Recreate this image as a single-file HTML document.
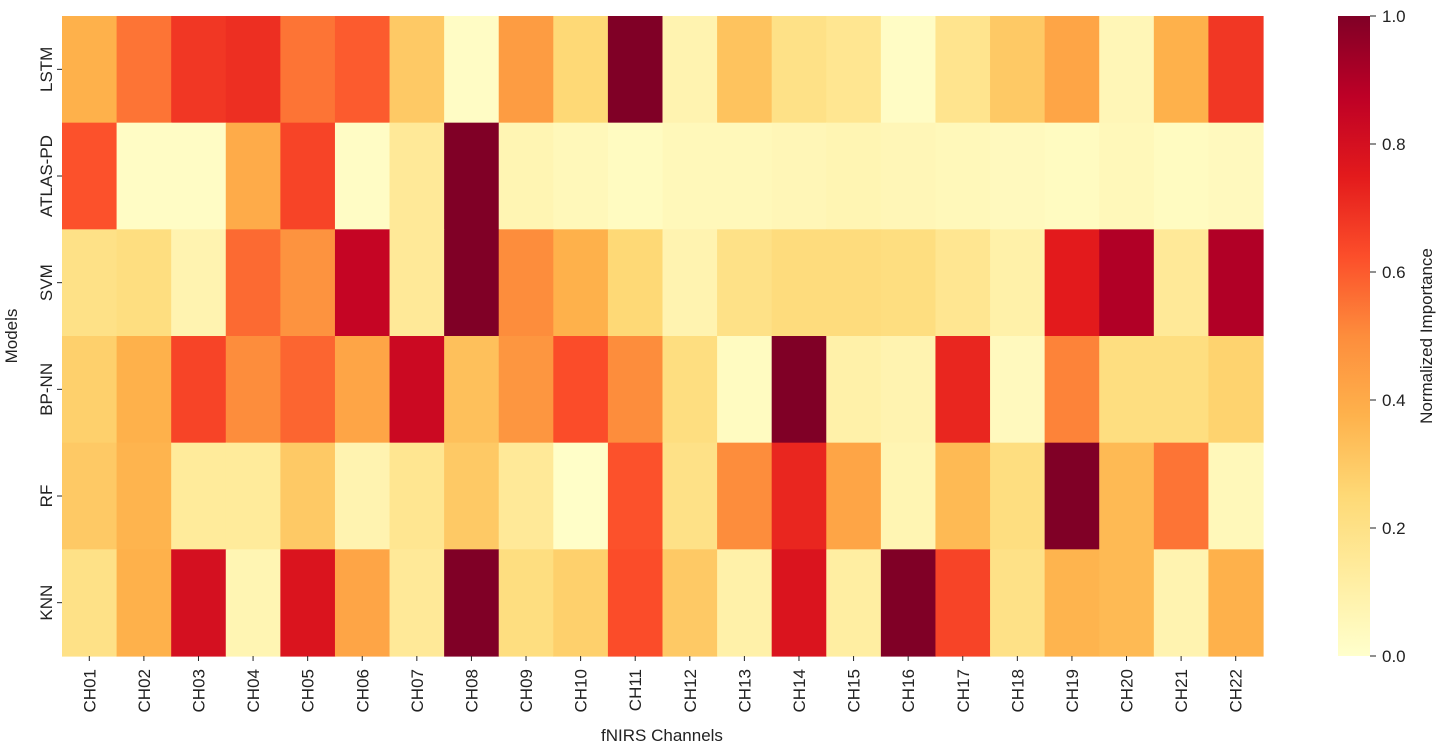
<!DOCTYPE html>
<html><head><meta charset="utf-8"><style>
html,body{margin:0;padding:0;background:#fff;}
svg{display:block;font-family:"Liberation Sans","DejaVu Sans",sans-serif;}
</style></head><body>
<svg id="chart" width="1441" height="746" xmlns="http://www.w3.org/2000/svg">
<defs>
<linearGradient id="cbgrad" x1="0" y1="1" x2="0" y2="0">
<stop offset="0" stop-color="#ffffcc"/><stop offset="0.125" stop-color="#ffeda0"/>
<stop offset="0.25" stop-color="#fed976"/><stop offset="0.375" stop-color="#feb24c"/>
<stop offset="0.5" stop-color="#fd8d3c"/><stop offset="0.625" stop-color="#fc4e2a"/>
<stop offset="0.75" stop-color="#e31a1c"/><stop offset="0.875" stop-color="#bd0026"/>
<stop offset="1" stop-color="#800026"/>
</linearGradient>
</defs>
<g id="cells"></g>
<g id="axes"></g>
<rect x="1338" y="16" width="32" height="640" fill="url(#cbgrad)"/>
<g id="cbaxis"></g>
<text x="662" y="741" text-anchor="middle" font-size="17" fill="#222">fNIRS Channels</text>
<text transform="translate(17,336) rotate(-90)" text-anchor="middle" font-size="17" fill="#222">Models</text>
<text transform="translate(1432,336) rotate(-90)" text-anchor="middle" font-size="17" fill="#222">Normalized Importance</text>
</svg>
<script>
const channels = ["CH01","CH02","CH03","CH04","CH05","CH06","CH07","CH08","CH09","CH10","CH11","CH12","CH13","CH14","CH15","CH16","CH17","CH18","CH19","CH20","CH21","CH22"];
const models = ["LSTM","ATLAS-PD","SVM","BP-NN","RF","KNN"];
const lstm   = [0.38,0.55,0.68,0.70,0.55,0.60,0.30,0.02,0.45,0.25,1.00,0.08,0.32,0.20,0.17,0.02,0.18,0.30,0.42,0.06,0.38,0.68];
const atlas  = [0.62,0.02,0.02,0.40,0.65,0.02,0.15,1.00,0.07,0.05,0.03,0.05,0.05,0.06,0.07,0.06,0.05,0.04,0.03,0.05,0.03,0.04];
const svm    = [0.20,0.22,0.08,0.57,0.48,0.85,0.15,1.00,0.50,0.38,0.25,0.08,0.20,0.23,0.23,0.22,0.17,0.10,0.75,0.90,0.15,0.90];
const bpnn   = [0.28,0.38,0.65,0.50,0.58,0.42,0.83,0.33,0.47,0.63,0.50,0.22,0.03,1.00,0.10,0.08,0.72,0.04,0.52,0.22,0.22,0.27];
const rf     = [0.30,0.37,0.14,0.14,0.30,0.08,0.17,0.30,0.15,0.01,0.62,0.20,0.50,0.72,0.42,0.07,0.35,0.22,1.00,0.35,0.55,0.05];
const knn    = [0.20,0.38,0.80,0.07,0.78,0.42,0.15,1.00,0.22,0.28,0.63,0.30,0.10,0.78,0.12,1.00,0.65,0.20,0.37,0.35,0.08,0.38];
const cbTicks = ["0.0","0.2","0.4","0.6","0.8","1.0"];
const rows = [lstm,atlas,svm,bpnn,rf,knn];

const NS="http://www.w3.org/2000/svg";
const X0=62,X1=1263,Y0=16,Y1=656;
const cw=(X1-X0)/channels.length, rh=(Y1-Y0)/models.length;
const xPos=i=>X0+i*cw, yPos=j=>Y0+j*rh;
const stops=["#ffffcc","#ffeda0","#fed976","#feb24c","#fd8d3c","#fc4e2a","#e31a1c","#bd0026","#800026"];
function hex(h){return [1,3,5].map(k=>parseInt(h.substr(k,2),16));}
function cmap(v){v=Math.max(0,Math.min(1,v));const t=v*8;const i=Math.min(7,Math.floor(t));const f=t-i;
const a=hex(stops[i]),b=hex(stops[i+1]);return "rgb("+a.map((c,k)=>Math.round(c+(b[k]-c)*f)).join(",")+")";}
function mk(tag,attrs,parent){const e=document.createElementNS(NS,tag);for(const k in attrs)e.setAttribute(k,attrs[k]);parent.appendChild(e);return e;}
const cells=document.getElementById('cells'),axes=document.getElementById('axes'),cb=document.getElementById('cbaxis');
rows.forEach((row,j)=>row.forEach((v,i)=>{
 const r=mk('rect',{x:xPos(i),y:yPos(j),width:cw+0.6,height:rh+0.6,fill:cmap(v)},cells);
 
 
}));
channels.forEach((c,i)=>{
 const cx=xPos(i)+cw/2;
 mk('line',{x1:cx,y1:Y1,x2:cx,y2:Y1+5,stroke:'#222','stroke-width':1},axes);
 const t=mk('text',{transform:`translate(${cx+6},${Y1+13}) rotate(-90)`,'text-anchor':'end','font-size':17,fill:'#222'},axes);
 t.textContent=c;
 
 
});
models.forEach((m,j)=>{
 const cy=yPos(j)+rh/2;
 mk('line',{x1:X0-5,y1:cy,x2:X0,y2:cy,stroke:'#222','stroke-width':1},axes);
 const t=mk('text',{transform:`translate(${X0-10},${cy}) rotate(-90)`,'text-anchor':'middle','font-size':17,fill:'#222'},axes);
 t.textContent=m;
 
 
});
cbTicks.forEach(s=>{
 const y=Y1-parseFloat(s)*(Y1-Y0);
 mk('line',{x1:1370,y1:y,x2:1376,y2:y,stroke:'#222','stroke-width':1},cb);
 const t=mk('text',{x:1382,y:y+6,'font-size':17,fill:'#222'},cb);
 t.textContent=s;
 
 
});
</script>
</body></html>
